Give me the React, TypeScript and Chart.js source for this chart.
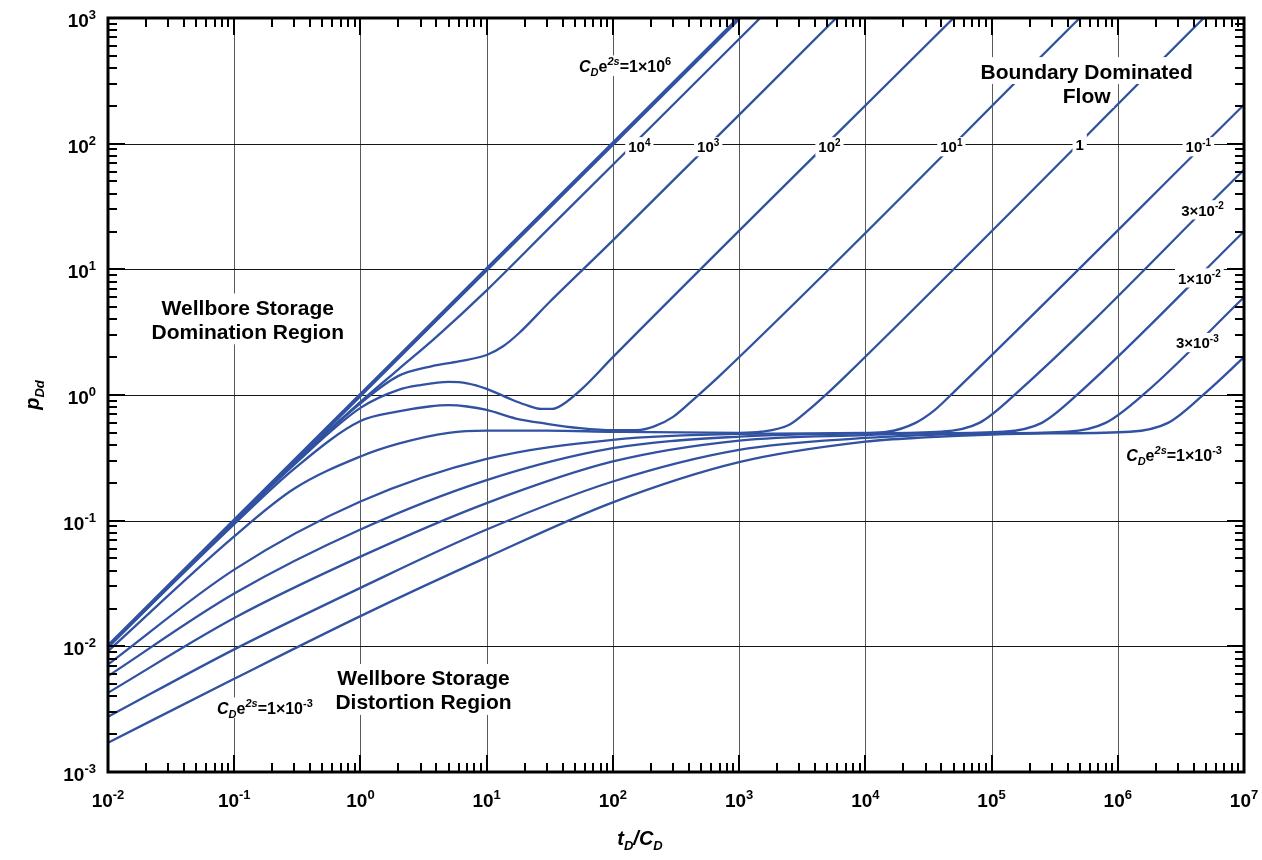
import React, { useEffect, useRef } from "react";
import { Chart, registerables } from "chart.js";

Chart.register(...registerables);

// ---------- axis decades ----------
const X_EXPONENTS = [-2, -1, 0, 1, 2, 3, 4, 5, 6, 7];
const Y_EXPONENTS = [-3, -2, -1, 0, 1, 2, 3];

// ---------- curves (t_D/C_D , p_Dd) for each C_D e^2s ----------
const CURVE_1E6_X = [0.01, 1000];
const CURVE_1E6_Y = [0.01, 1000];

const CURVE_1E4_X = [0.01, 0.1, 0.3, 1, 2, 4, 10, 30, 100, 1470];
const CURVE_1E4_Y = [0.01, 0.098, 0.29, 0.88, 1.6, 2.9, 6.8, 20.4, 68, 1000];

const CURVE_1E3_X = [0.01, 0.1, 0.3, 1, 2, 3.7, 6, 10, 13.4, 18, 31.5, 100, 5880];
const CURVE_1E3_Y = [0.01, 0.099, 0.29, 0.86, 1.42, 1.7, 1.85, 2.08, 2.43, 3.1, 5.5, 17, 1000];

const CURVE_1E2_X = [0.01, 0.1, 0.3, 1, 2, 3, 5, 7, 10, 15, 20, 27, 33, 40, 58, 100, 50000];
const CURVE_1E2_Y = [0.01, 0.097, 0.28, 0.79, 1.1, 1.2, 1.27, 1.24, 1.12, 0.94, 0.84, 0.775, 0.775, 0.84, 1.14, 2.0, 1000];

const CURVE_1E1_X = [0.01, 0.1, 0.3, 1, 2, 3.5, 5, 7, 10, 17, 30, 55, 100, 155, 210, 300, 450, 700, 500000];
const CURVE_1E1_Y = [0.01, 0.094, 0.26, 0.62, 0.74, 0.81, 0.83, 0.81, 0.76, 0.65, 0.59, 0.545, 0.525, 0.525, 0.56, 0.67, 0.95, 1.42, 1000];

const CURVE_1_X = [0.01, 0.1, 0.3, 1, 2, 5, 10, 30, 100, 1000, 1500, 2500, 3500, 5000, 7000, 4800000];
const CURVE_1_Y = [0.00916, 0.075, 0.18, 0.324, 0.41, 0.5, 0.52, 0.52, 0.51, 0.5, 0.51, 0.58, 0.75, 1.03, 1.42, 1000];

const CURVE_1EM1_X = [0.01, 0.1, 1, 10, 100, 1000, 10000, 15000, 25000, 35000, 50000, 10000000];
const CURVE_1EM1_Y = [0.00718, 0.0408, 0.142, 0.31, 0.44, 0.49, 0.5, 0.51, 0.6, 0.75, 1.05, 204];

const CURVE_3EM2_X = [0.01, 0.1, 1, 10, 100, 1000, 10000, 40000, 80000, 160000, 10000000];
const CURVE_3EM2_Y = [0.0058, 0.0263, 0.085, 0.21, 0.377, 0.467, 0.495, 0.51, 0.6, 1.05, 62];

const CURVE_1EM2_X = [0.01, 0.1, 1, 10, 100, 1000, 10000, 30000, 125000, 250000, 500000, 10000000];
const CURVE_1EM2_Y = [0.00427, 0.0168, 0.0517, 0.138, 0.296, 0.434, 0.48, 0.495, 0.51, 0.6, 1.05, 20];

const CURVE_3EM3_X = [0.01, 0.1, 1, 10, 100, 1000, 10000, 30000, 100000, 400000, 800000, 1670000, 10000000];
const CURVE_3EM3_Y = [0.00275, 0.00946, 0.0292, 0.085, 0.205, 0.366, 0.455, 0.48, 0.495, 0.51, 0.6, 1.05, 6.0];

const CURVE_1EM3_X = [0.01, 0.1, 1, 10, 100, 1000, 10000, 30000, 100000, 300000, 1250000, 2500000, 5000000, 10000000];
const CURVE_1EM3_Y = [0.00171, 0.00552, 0.0174, 0.051, 0.14, 0.292, 0.425, 0.46, 0.485, 0.495, 0.51, 0.6, 1.05, 2.0];

const CURVES = [
  { name: "1e6", xs: CURVE_1E6_X, ys: CURVE_1E6_Y, thick: true },
  { name: "1e4", xs: CURVE_1E4_X, ys: CURVE_1E4_Y },
  { name: "1e3", xs: CURVE_1E3_X, ys: CURVE_1E3_Y },
  { name: "1e2", xs: CURVE_1E2_X, ys: CURVE_1E2_Y },
  { name: "1e1", xs: CURVE_1E1_X, ys: CURVE_1E1_Y },
  { name: "1", xs: CURVE_1_X, ys: CURVE_1_Y },
  { name: "1e-1", xs: CURVE_1EM1_X, ys: CURVE_1EM1_Y },
  { name: "3e-2", xs: CURVE_3EM2_X, ys: CURVE_3EM2_Y },
  { name: "1e-2", xs: CURVE_1EM2_X, ys: CURVE_1EM2_Y },
  { name: "3e-3", xs: CURVE_3EM3_X, ys: CURVE_3EM3_Y },
  { name: "1e-3", xs: CURVE_1EM3_X, ys: CURVE_1EM3_Y },
];

// ---------- text labels ----------
type Part = { t: string; it?: boolean; sup?: boolean; sub?: boolean };
const CDE2S: Part[] = [
  { t: "C", it: true },
  { t: "D", it: true, sub: true },
  { t: "e" },
  { t: "2s", it: true, sup: true },
];
const pow10 = (pre: string, e: string): Part[] => [{ t: pre + "10" }, { t: e, sup: true }];

const NOTES: { lines: Part[][]; x: number; y: number; size: number }[] = [
  { lines: [[{ t: "Wellbore Storage" }], [{ t: "Domination Region" }]], x: 0.128, y: 4.0, size: 21 },
  { lines: [[{ t: "Wellbore Storage" }], [{ t: "Distortion Region" }]], x: 3.16, y: 0.0045, size: 21 },
  { lines: [[{ t: "Boundary Dominated" }], [{ t: "Flow" }]], x: 567000, y: 304, size: 21 },
  { lines: [[...CDE2S, ...pow10("=1×", "6")]], x: 125, y: 415, size: 16 },
  { lines: [pow10("", "4")], x: 162, y: 94, size: 15 },
  { lines: [pow10("", "3")], x: 569, y: 94, size: 15 },
  { lines: [pow10("", "2")], x: 5200, y: 94, size: 15 },
  { lines: [pow10("", "1")], x: 48000, y: 94, size: 15 },
  { lines: [[{ t: "1" }]], x: 499000, y: 99, size: 15 },
  { lines: [pow10("", "-1")], x: 4350000, y: 94, size: 15 },
  { lines: [pow10("3×", "-2")], x: 4690000, y: 29.6, size: 15 },
  { lines: [pow10("1×", "-2")], x: 4430000, y: 8.5, size: 15 },
  { lines: [pow10("3×", "-3")], x: 4270000, y: 2.6, size: 15 },
  { lines: [[...CDE2S, ...pow10("=1×", "-3")]], x: 2790000, y: 0.333, size: 16 },
  { lines: [[...CDE2S, ...pow10("=1×", "-3")]], x: 0.175, y: 0.00323, size: 16 },
];

const X_TITLE: Part[] = [
  { t: "t", it: true },
  { t: "D", it: true, sub: true },
  { t: "/", it: true },
  { t: "C", it: true },
  { t: "D", it: true, sub: true },
];
const Y_TITLE: Part[] = [
  { t: "p", it: true },
  { t: "Dd", it: true, sub: true },
];

const LINE_COLOR = "#3151a1";
const FONT = '"Liberation Sans", Arial, Helvetica, sans-serif';

function fontOf(size: number, it?: boolean) {
  return `${it ? "italic " : ""}bold ${size}px ${FONT}`;
}
function partSize(p: Part, size: number) {
  return p.sup || p.sub ? Math.round(size * 0.66) : size;
}
function richWidth(ctx: CanvasRenderingContext2D, parts: Part[], size: number) {
  let w = 0;
  for (const p of parts) {
    ctx.font = fontOf(partSize(p, size), p.it);
    w += ctx.measureText(p.t).width;
  }
  return w;
}
function richDraw(ctx: CanvasRenderingContext2D, parts: Part[], x: number, base: number, size: number) {
  let cx = x;
  ctx.textAlign = "left";
  ctx.textBaseline = "alphabetic";
  for (const p of parts) {
    ctx.font = fontOf(partSize(p, size), p.it);
    const dy = p.sup ? -size * 0.42 : p.sub ? size * 0.26 : 0;
    ctx.fillText(p.t, cx, base + dy);
    cx += ctx.measureText(p.t).width;
  }
}

const overlay = {
  id: "overlay",
  beforeDatasetsDraw(chart: any) {
    const { ctx, chartArea: a, scales } = chart;
    ctx.save();
    ctx.lineWidth = 1;
    ctx.strokeStyle = "#5a5a5a";
    for (const e of X_EXPONENTS) {
      const px = Math.round(scales.x.getPixelForValue(Math.pow(10, e))) + 0.5;
      ctx.beginPath();
      ctx.moveTo(px, a.top);
      ctx.lineTo(px, a.bottom);
      ctx.stroke();
    }
    ctx.strokeStyle = "#151515";
    for (const e of Y_EXPONENTS) {
      const py = Math.round(scales.y.getPixelForValue(Math.pow(10, e))) + 0.5;
      ctx.beginPath();
      ctx.moveTo(a.left, py);
      ctx.lineTo(a.right, py);
      ctx.stroke();
    }
    ctx.restore();
  },
  afterDatasetsDraw(chart: any) {
    const { ctx, chartArea: a, scales } = chart;
    const sx = scales.x;
    const sy = scales.y;
    ctx.save();

    // annotations with white backgrounds
    for (const n of NOTES) {
      const cx = sx.getPixelForValue(n.x);
      const cy = sy.getPixelForValue(n.y);
      const gap = Math.round(n.size * 1.12);
      const total = gap * n.lines.length;
      n.lines.forEach((parts, i) => {
        const w = richWidth(ctx, parts, n.size);
        const lineCenter = cy - total / 2 + gap * (i + 0.5);
        const base = lineCenter + n.size * 0.36;
        ctx.fillStyle = "#ffffff";
        ctx.fillRect(cx - w / 2 - 3, base - n.size * 1.02, w + 6, n.size * 1.28);
      });
      ctx.fillStyle = "#000000";
      n.lines.forEach((parts, i) => {
        const w = richWidth(ctx, parts, n.size);
        const lineCenter = cy - total / 2 + gap * (i + 0.5);
        const base = lineCenter + n.size * 0.36;
        richDraw(ctx, parts, cx - w / 2, base, n.size);
      });
    }

    // inward tick marks on all four sides
    ctx.strokeStyle = "#000";
    ctx.lineWidth = 2;
    const minorLen = 9;
    const majorLen = 17;
    for (let i = 0; i < X_EXPONENTS.length; i++) {
      const e = X_EXPONENTS[i];
      for (let m = 1; m <= 9; m++) {
        if (i === X_EXPONENTS.length - 1 && m > 1) break;
        const px = Math.round(sx.getPixelForValue(m * Math.pow(10, e)));
        const len = m === 1 ? majorLen : minorLen;
        ctx.beginPath();
        ctx.moveTo(px, a.top);
        ctx.lineTo(px, a.top + len);
        ctx.moveTo(px, a.bottom);
        ctx.lineTo(px, a.bottom - len);
        ctx.stroke();
      }
    }
    for (let i = 0; i < Y_EXPONENTS.length; i++) {
      const e = Y_EXPONENTS[i];
      for (let m = 1; m <= 9; m++) {
        if (i === Y_EXPONENTS.length - 1 && m > 1) break;
        const py = Math.round(sy.getPixelForValue(m * Math.pow(10, e)));
        const len = m === 1 ? majorLen : minorLen;
        ctx.beginPath();
        ctx.moveTo(a.left, py);
        ctx.lineTo(a.left + len, py);
        ctx.moveTo(a.right, py);
        ctx.lineTo(a.right - len, py);
        ctx.stroke();
      }
    }

    // frame
    ctx.lineWidth = 3;
    ctx.strokeRect(a.left, a.top, a.right - a.left, a.bottom - a.top);

    // tick labels
    ctx.fillStyle = "#000";
    const TS = 19;
    for (const e of X_EXPONENTS) {
      const parts = pow10("", String(e));
      const w = richWidth(ctx, parts, TS);
      const px = sx.getPixelForValue(Math.pow(10, e));
      richDraw(ctx, parts, px - w / 2, a.bottom + 35, TS);
    }
    for (const e of Y_EXPONENTS) {
      const parts = pow10("", String(e));
      const w = richWidth(ctx, parts, TS);
      const py = sy.getPixelForValue(Math.pow(10, e));
      richDraw(ctx, parts, a.left - 12 - w, py + 9, TS);
    }

    // axis titles
    const tw = richWidth(ctx, X_TITLE, 20);
    richDraw(ctx, X_TITLE, a.left + 532 - tw / 2, a.bottom + 73, 20);
    ctx.save();
    ctx.translate(a.left - 69, (a.top + a.bottom) / 2);
    ctx.rotate(-Math.PI / 2);
    const yw = richWidth(ctx, Y_TITLE, 20);
    richDraw(ctx, Y_TITLE, -yw / 2, 0, 20);
    ctx.restore();

    ctx.restore();
  },
};

export default function App() {
  const ref = useRef<HTMLCanvasElement | null>(null);
  useEffect(() => {
    if (!ref.current) return;
    const datasets = CURVES.map((c) => ({
      label: c.name,
      data: c.xs.map((x, i) => ({ x, y: c.ys[i] })),
      borderColor: LINE_COLOR,
      borderWidth: c.thick ? 4 : 2.3,
      pointRadius: 0,
      fill: false,
      cubicInterpolationMode: "monotone" as const,
      clip: 0,
    }));
    const chart = new Chart(ref.current, {
      type: "line",
      data: { datasets },
      options: {
        animation: false,
        responsive: false,
        devicePixelRatio: 1,
        layout: { padding: { left: 108, right: 18, top: 18, bottom: 88 } },
        plugins: { legend: { display: false }, tooltip: { enabled: false } },
        elements: { point: { radius: 0 } },
        scales: {
          x: { type: "logarithmic", min: 0.01, max: 1e7, display: false },
          y: { type: "logarithmic", min: 0.001, max: 1000, display: false },
        },
      },
      plugins: [overlay],
    } as any);
    return () => chart.destroy();
  }, []);
  return (
    <div style={{ position: "fixed", left: 0, top: 0, width: 1262, height: 860, background: "#fff" }}>
      <canvas ref={ref} width={1262} height={860} style={{ display: "block" }} />
    </div>
  );
}
